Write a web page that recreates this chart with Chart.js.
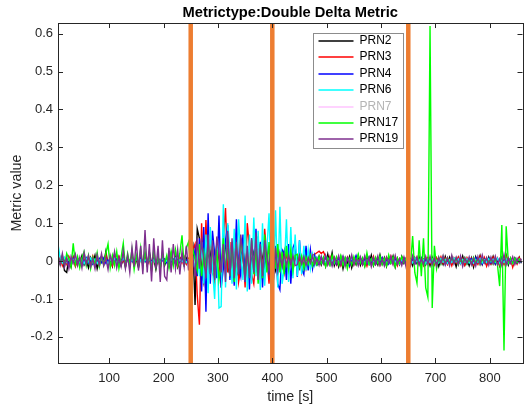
<!DOCTYPE html>
<html>
<head>
<meta charset="utf-8">
<script src="https://cdn.jsdelivr.net/npm/chart.js@4/dist/chart.umd.min.js"></script>
<style>
  html, body { margin: 0; padding: 0; background: #fff; }
  #wrap { width: 524px; height: 413px; }
</style>
</head>
<body>
<div id="wrap"><canvas id="chart" width="524" height="413"></canvas></div>
<script>
// sample grid of the series: first sample time and spacing [s]
const t0 = 6;
const dt = 4;

// metric values in units of 1e-3, one value per sample
const prn2 = [
    5, -8, 12, -25, -30, 8, -15, 10, -12, 6,
    -5, 14, -10, 3, -18, 9, -6, 15, -20, 4,
    12, -8, 25, -10, 5, -14, 18, -6, 10, -12,
    7, -16, 11, -4, 14, -9, 5, -18, 12, -3,
    16, -10, 24, -6, 8, -22, 10, -5, 15, -12,
    6, -14, 20, -8, 11, -16, 4, 13, -10, 8,
    -6, 18, 40, -116, 85, 60, -20, -55, 30, 10,
    25, -30, -10, 45, 5, -50, 25, 40, -15, -35,
    20, 50, -25, -40, 15, 30, -10, 35, -45, 5,
    25, -20, -35, 40, 10, -15, 30, -40, 20, -5,
    -25, 20, 5, -15, 25, -20, -8, 18, -12, 15,
    12, -18, 8, -10, 15, -6, 10, -14, 5, -8,
    12, -10, 6, -14, 18, -8, 22, -12, 5, -15,
    10, -20, 8, -6, 12, -18, 5, -9, 14, -11,
    6, -13, 10, -7, 15, -12, 4, -10, 16, -8,
    9, -14, 11, -5, 13, -16, 7, -9, 12, -6,
    8, -10, 5, -12, 9, -6, 11, -8, 4, -10,
    7, -12, 10, -5, 8, -14, 6, -9, 12, -7,
    10, -8, 5, -15, 9, -6, 13, -10, 4, -12,
    8, -16, 11, -5, 14, -9, 6, -11, 10, -7,
    12, -8, 5, -13, 9, -6, 15, -10, 7, -12,
    8, -5, 10, -6
];
const prn3 = [
    -4, 10, -12, 6, -8, 12, -5, 9, -14, 4,
    8, -10, 5, -7, 11, -6, 13, -9, 3, -12,
    10, -5, 18, -8, 6, -12, 9, -4, 12, -7,
    5, -11, 8, -3, 10, -14, 6, -8, 11, -5,
    9, -12, 7, -25, 12, -6, 8, -18, 10, -4,
    7, -10, 12, -6, 4, -13, 9, -5, 11, -8,
    6, -10, 30, 45, -90, -168, 100, -60, 108, -45,
    70, -20, -55, 40, 10, -70, 60, 140, -30, 50,
    -40, 25, 75, -55, -20, 30, -70, 100, 35, -35,
    -60, 20, 65, -50, -30, 85, 10, -60, 45, -25,
    30, -35, 20, 5, -30, 25, -20, 15, -25, 18,
    -15, 10, -28, 12, -20, 8, -10, 15, 18, 22,
    26, 20, 25, 10, -8, 12, -6, 9, -10, 5,
    -12, 8, -5, 10, -14, 6, -9, 11, -4, 7,
    -10, 5, -13, 8, -6, 12, -9, 4, -11, 7,
    -8, 10, -5, 13, -7, 9, -12, 6, -4, 8,
    -9, 5, -11, 7, -6, 10, -8, 4, -12, 6,
    9, -7, 5, -10, 8, -4, 11, -6, 7, -9,
    4, -12, 8, -5, 10, -7, 6, -11, 9, -3,
    7, -10, 5, -8, 12, -6, 9, -13, 4, -7,
    10, -5, 8, -11, 6, -9, 13, -4, 7, -16,
    5, -8, 9, -4
];
const prn4 = [
    3, -6, 8, -4, 5, -8, 2, 7, -5, 4,
    -7, 6, -3, 9, -5, 2, -8, 5, -2, 7,
    -4, 8, -6, 3, -9, 5, -2, 6, -7, 4,
    6, -3, 9, -5, 2, -7, 5, -4, 8, -6,
    3, -8, 6, -2, 7, -5, 4, -9, 2, 6,
    -5, 8, -3, 5, -7, 4, -2, 9, -6, 3,
    -4, 6, -10, 30, -40, 60, -80, 90, -134, 126,
    -60, 80, 20, -45, 120, -70, -20, 55, 95, -50,
    40, -65, 110, -10, -40, 70, -55, 35, -75, 60,
    -30, 85, -45, 50, -70, 30, 5, -35, 75, -50,
    40, -60, -76, 30, 20, -50, 45, -60, 35, 50,
    -42, 55, -20, -35, 40, -25, 30, -20, 15, -10,
    -8, 10, -5, 12, -7, 6, -10, 4, -8, 9,
    -6, 11, -4, 8, -12, 5, -3, 14, -7, 6,
    -9, 4, -6, 10, -3, 7, -8, 5, -4, 9,
    -6, 3, -8, 6, -2, 5, -7, 4, -3, 8,
    -5, 7, -3, 6, -8, 4, -2, 9, -6, 3,
    -4, 8, -6, 2, -7, 5, -3, 6, -9, 4,
    -2, 7, -5, 3, -6, 8, -4, 5, -7, 2,
    6, -4, 9, -3, 5, -8, 4, -2, 7, -5,
    3, -7, 6, -4, 8, -2, 5, -6, 4, -3,
    7, -5, 3, -4
];
const prn6 = [
    45, 8, -5, 10, -3, 6, -8, 4, -2, 7,
    -5, 3, -7, 6, -2, 8, -4, 5, -6, 2,
    6, -3, 4, -8, 5, -2, 7, -5, 3, -4,
    8, -4, 2, -6, 5, -3, 9, -5, 3, -7,
    4, -2, 6, -5, 3, -8, 5, -3, 7, -4,
    2, -6, 5, -3, 8, -5, 4, -2, 6, -4,
    3, -5, 8, -20, 30, -40, 50, -60, 70, -85,
    90, -20, -100, 60, -124, -120, 150, -70, 100, 30,
    -60, 85, -75, 110, 20, -50, 120, -80, 70, -60,
    115, -40, 80, -76, 100, -65, 30, 126, -80, -70,
    134, -70, 143, -60, -20, 110, -55, 90, -45, 70,
    -40, 55, -35, 40, -25, 30, -20, 18, -12, 10,
    6, -5, 8, -4, 7, -6, 3, -5, 9, -3,
    5, -7, 2, 6, -4, 8, -3, 5, -6, 2,
    7, -5, 3, -8, 4, -2, 6, -4, 9, -3,
    5, -6, 2, -4, 7, -3, 5, -8, 4, -2,
    6, -4, 3, -5, 8, -2, 4, -6, 3, -7,
    5, -3, 6, -4, 2, -5, 7, -3, 4, -6,
    3, -4, 8, -2, 5, -7, 4, -3, 6, -5,
    2, -6, 4, -3, 7, -5, 3, -4, 6, -2,
    5, -3, 7, -6, 2, -4, 6, -5, 3, -7,
    4, -2, 5, -3
];
const prn7 = []; // switched off in the figure, only listed in the legend
const prn17 = [
    10, -8, 15, -12, 20, 5, -15, 47, -10, 12,
    -18, 8, 25, -12, 15, -20, 10, -8, 22, -15,
    12, -10, 20, 45, -18, 15, -12, 25, -20, 10,
    47, -15, 20, -10, 30, -22, 15, -12, 35, -18,
    25, -10, 18, -25, 30, -15, 12, -20, 22, -8,
    15, -18, 25, -12, 30, -10, 20, 68, -15, 35,
    50, -10, 30, 5, -25, 45, -40, 20, -30, 55,
    -20, 40, -45, 30, -50, -10, 60, -25, 35, -40,
    50, -55, 45, -30, 60, 10, -50, 25, -40, 55,
    -35, 30, -60, 40, -45, 70, -30, 50, -55, 35,
    -20, 45, -30, 25, -35, 40, -20, 30, -25, 15,
    18, -15, 12, -20, 10, -8, 15, -12, 8, -10,
    12, -6, 10, -14, 8, -10, 15, -5, 11, -9,
    14, -12, 8, -20, 6, -10, 12, -7, 18, -5,
    9, -14, 22, -8, 6, -11, 10, -6, 13, -9,
    7, -12, 16, -5, 10, -15, 8, -6, 11, -4,
    5, -8, -12, 66, -30, -58, 55, -40, 60, -70,
    -95, 620, -124, 40, -20, 10, -8, 12, -6, 9,
    -7, 12, -5, 8, -10, 6, -4, 9, -8, 5,
    -6, 10, -4, 7, -9, 5, -3, 8, -5, 6,
    -8, 4, -10, -66, 95, -236, 92, -5, 8, -6,
    7, -4, 5, -3
];
const prn19 = [
    15, -10, 20, -15, 8, -20, 12, -5, 18, -12,
    10, -18, 22, -8, 14, -15, 6, -20, 16, -10,
    20, -12, 8, -22, 15, -5, 25, -18, 10, -14,
    28, -20, 15, -30, 35, -15, 55, -25, 40, -35,
    82, -30, 45, -54, 60, -20, 40, -55, 55, -40,
    -50, 35, -30, 45, -20, 30, -35, 25, -15, 40,
    -25, 30, 10, -40, 60, -20, 50, 5, -45, 70,
    -35, 55, -50, 65, 20, -30, 45, -55, 80, -40,
    60, -45, 50, -35, 70, 15, -55, 40, -45, 60,
    -30, 75, -50, 45, -40, 55, 10, -30, 65, -50,
    35, -25, 20, -15, 18, -12, 15, -10, 14, -12,
    -10, 15, -8, 12, -12, 10, -6, 14, -9, 8,
    -11, 12, -7, 15, -10, 8, -13, 10, -5, 14,
    -9, 12, -14, 8, -6, 16, -10, 7, -12, 11,
    -8, 14, -6, 10, -15, 9, -7, 13, -11, 6,
    -13, 10, -5, 12, -9, 15, -8, 6, -12, 10,
    -16, 8, -12, 14, -7, 10, -11, 6, -9, 13,
    -8, 12, -10, 7, -13, 9, -6, 14, -10, 8,
    -12, 15, -7, 10, -9, 13, -14, 8, -6, 11,
    -10, 7, -13, 12, -8, 16, -5, 9, -11, 10,
    -7, 13, -9, 6, -12, 18, -10, 8, -6, 11,
    -9, 7, -5, 6
];

const seriesNames = ['PRN2', 'PRN3', 'PRN4', 'PRN6', 'PRN7', 'PRN17', 'PRN19'];
const seriesValues = [prn2, prn3, prn4, prn6, prn7, prn17, prn19];
const seriesColors = ['#000000', '#ff0000', '#0000ff', '#00ffff', '#ffc4ff', '#00ff00', '#7e2f8e'];
const seriesHidden = [false, false, false, false, true, false, false];

// event markers [s]
const eventTimes = [250, 400, 650];

const xTicks = [100, 200, 300, 400, 500, 600, 700, 800];
const yTicks = [-0.2, -0.1, 0, 0.1, 0.2, 0.3, 0.4, 0.5, 0.6];
const xMin = 6, xMax = 860;
const yMin = -0.269, yMax = 0.628;

const font = '"Liberation Sans", Arial, Helvetica, sans-serif';
const axisColor = '#262626';

const datasets = seriesNames.map((name, k) => ({
    label: name,
    data: seriesValues[k].map((v, i) => ({ x: t0 + i * dt, y: v / 1000 })),
    borderColor: seriesColors[k],
    borderWidth: 1.4,
    pointRadius: 0,
    tension: 0,
    hidden: seriesHidden[k],
    order: seriesNames.length - k + 1
}));

eventTimes.forEach(t => {
    datasets.push({
        label: '',
        isEvent: true,
        data: [{ x: t, y: yMin }, { x: t, y: yMax }],
        borderColor: '#ed7d31',
        borderWidth: 4.5,
        pointRadius: 0,
        order: 0
    });
});

// MATLAB style box with inward ticks, and the legend box
const matlabAxes = {
    id: 'matlabAxes',
    afterDraw(chart) {
        const { ctx, chartArea: a, scales } = chart;
        ctx.save();
        ctx.strokeStyle = axisColor;
        ctx.lineWidth = 1;
        ctx.beginPath();
        xTicks.forEach(v => {
            const px = Math.round(scales.x.getPixelForValue(v)) + 0.5;
            ctx.moveTo(px, a.bottom); ctx.lineTo(px, a.bottom - 5);
            ctx.moveTo(px, a.top); ctx.lineTo(px, a.top + 5);
        });
        yTicks.forEach(v => {
            const py = Math.round(scales.y.getPixelForValue(v)) + 0.5;
            ctx.moveTo(a.left, py); ctx.lineTo(a.left + 5, py);
            ctx.moveTo(a.right, py); ctx.lineTo(a.right - 5, py);
        });
        ctx.stroke();
        ctx.strokeRect(Math.round(a.left) + 0.5, Math.round(a.top) + 0.5,
            Math.round(a.right - a.left), Math.round(a.bottom - a.top));

        // legend
        const lx = 313.5, ly = 33.5, lw = 90, lh = 115, rowH = 16.4;
        ctx.fillStyle = '#ffffff';
        ctx.fillRect(lx, ly, lw, lh);
        ctx.strokeStyle = '#8c8c8c';
        ctx.strokeRect(lx, ly, lw, lh);
        ctx.font = '12px ' + font;
        ctx.textBaseline = 'middle';
        ctx.textAlign = 'left';
        chart.data.datasets.forEach((ds, i) => {
            if (ds.isEvent) return;
            const y = Math.round(ly + 7.5 + rowH * i);
            ctx.strokeStyle = seriesColors[i];
            ctx.lineWidth = 1.5;
            ctx.beginPath();
            ctx.moveTo(lx + 5, y); ctx.lineTo(lx + 40, y);
            ctx.stroke();
            ctx.fillStyle = ds.hidden ? '#b4b4b4' : '#000000';
            ctx.fillText(ds.label, lx + 46, y);
        });
        ctx.restore();
    }
};

new Chart(document.getElementById('chart').getContext('2d'), {
    type: 'line',
    data: { datasets },
    options: {
        responsive: false,
        animation: false,
        events: [],
        layout: { padding: { top: 0, right: 1.5, bottom: 0, left: 0 } },
        plugins: {
            legend: { display: false },
            tooltip: { enabled: false },
            title: {
                display: true,
                fullSize: false,
                text: 'Metrictype:Double Delta Metric',
                color: '#000000',
                font: { family: font, size: 14.7, weight: 'bold' },
                padding: { top: 4.2, bottom: 1.2 }
            }
        },
        scales: {
            x: {
                type: 'linear',
                min: xMin,
                max: xMax,
                afterFit: s => { s.height = 50; },
                afterBuildTicks: s => { s.ticks = xTicks.map(v => ({ value: v })); },
                grid: { display: false, drawTicks: false },
                border: { display: false },
                ticks: {
                    color: axisColor,
                    font: { family: font, size: 13 },
                    padding: 7.5,
                    maxRotation: 0,
                    callback: v => String(v)
                },
                title: {
                    display: true,
                    text: 'time [s]',
                    color: axisColor,
                    font: { family: font, size: 14.3 },
                    padding: { top: 0, bottom: 6.9 }
                }
            },
            y: {
                type: 'linear',
                min: yMin,
                max: yMax,
                afterFit: s => { s.width = 58; },
                afterBuildTicks: s => { s.ticks = yTicks.map(v => ({ value: v })); },
                grid: { display: false, drawTicks: false },
                border: { display: false },
                ticks: {
                    color: axisColor,
                    font: { family: font, size: 13 },
                    padding: 5,
                    callback: v => String(v)
                },
                title: {
                    display: true,
                    text: 'Metric value',
                    color: axisColor,
                    font: { family: font, size: 14.3 },
                    padding: { top: 8.9, bottom: 0 }
                }
            }
        }
    },
    plugins: [matlabAxes]
});
</script>
</body>
</html>
